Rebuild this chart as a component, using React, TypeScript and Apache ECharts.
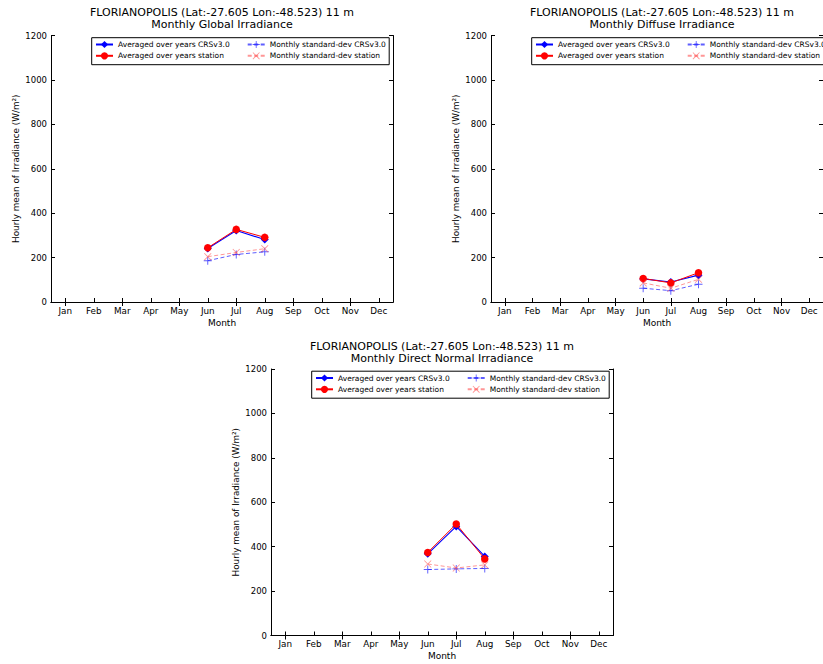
import React, { useEffect, useRef } from "react";
import * as echarts from "echarts";

const months = ["Jan", "Feb", "Mar", "Apr", "May", "Jun", "Jul", "Aug", "Sep", "Oct", "Nov", "Dec"];
const yTicks = { min: 0, max: 1200, interval: 200 };

const titleMain = "FLORIANOPOLIS (Lat:-27.605 Lon:-48.523) 11 m";
const panelTitles = ["Monthly Global Irradiance", "Monthly Diffuse Irradiance", "Monthly Direct Normal Irradiance"];

const seriesNames = [
  "Averaged over years CRSv3.0",
  "Averaged over years station",
  "Monthly standard-dev CRSv3.0",
  "Monthly standard-dev station",
];

// Global irradiance
const ghiAvgCRS = [null, null, null, null, null, 241, 322, 281, null, null, null, null];
const ghiAvgStation = [null, null, null, null, null, 244, 327, 291, null, null, null, null];
const ghiStdCRS = [null, null, null, null, null, 186, 214, 226, null, null, null, null];
const ghiStdStation = [null, null, null, null, null, 204, 223, 240, null, null, null, null];

// Diffuse irradiance
const difAvgCRS = [null, null, null, null, null, 104, 90, 121, null, null, null, null];
const difAvgStation = [null, null, null, null, null, 106, 86, 132, null, null, null, null];
const difStdCRS = [null, null, null, null, null, 62, 51, 80, null, null, null, null];
const difStdStation = [null, null, null, null, null, 86, 62, 102, null, null, null, null];

// Direct normal irradiance
const dniAvgCRS = [null, null, null, null, null, 368, 491, 356, null, null, null, null];
const dniAvgStation = [null, null, null, null, null, 374, 502, 345, null, null, null, null];
const dniStdCRS = [null, null, null, null, null, 297, 300, 302, null, null, null, null];
const dniStdStation = [null, null, null, null, null, 322, 304, 318, null, null, null, null];

const panelData = [
  [ghiAvgCRS, ghiAvgStation, ghiStdCRS, ghiStdStation],
  [difAvgCRS, difAvgStation, difStdCRS, difStdStation],
  [dniAvgCRS, dniAvgStation, dniStdCRS, dniStdStation],
];

// layout (pixels)
const layout = [
  { left: 51, top: 35.5 },
  { left: 491, top: 35.5 },
  { left: 271, top: 369 },
];
const GW = 342;
const GH = 266.5;
const FONT = "DejaVu Sans";

const PLUS = "path://M4.4,0H5.6V4.4H10V5.6H5.6V10H4.4V5.6H0V4.4H4.4Z";
const CROSS = "path://M0,0.8L0.8,0L5,4.2L9.2,0L10,0.8L5.8,5L10,9.2L9.2,10L5,5.8L0.8,10L0,9.2L4.2,5Z";

const styles = [
  { color: "#0000ff", symbol: "diamond", size: 8, dash: "solid" as any, width: 1.1 },
  { color: "#ff0000", symbol: "circle", size: 7.5, dash: "solid" as any, width: 1 },
  { color: "rgba(40,40,255,0.75)", symbol: PLUS, size: 8, dash: [4, 2.5], width: 1 },
  { color: "rgba(255,80,80,0.6)", symbol: CROSS, size: 7.5, dash: [4, 2.5], width: 1 },
];

function buildOption() {
  const grid: any[] = [];
  const xAxis: any[] = [];
  const yAxis: any[] = [];
  const title: any[] = [];
  const legend: any[] = [];
  const series: any[] = [];
  const graphic: any[] = [];
  const axisLine = { show: true, lineStyle: { color: "#000", width: 1 } };
  layout.forEach((p, i) => {
    grid.push({ left: p.left, top: p.top, width: GW, height: GH, containLabel: false });
    xAxis.push({
      type: "category", gridIndex: i, data: months, position: "bottom",
      axisLine, axisTick: { show: true, inside: true, alignWithLabel: true, length: 4, lineStyle: { color: "#000" } },
      axisLabel: { color: "#000", fontSize: 8.8, fontFamily: FONT, margin: 4 },
      name: "Month", nameLocation: "middle", nameGap: 16,
      nameTextStyle: { color: "#000", fontSize: 9, fontFamily: FONT },
      splitLine: { show: false },
    });
    xAxis.push({
      type: "category", gridIndex: i, data: months, position: "top",
      axisLine, axisTick: { show: true, inside: true, alignWithLabel: true, length: 4, lineStyle: { color: "#000" } },
      axisLabel: { show: false }, splitLine: { show: false },
    });
    yAxis.push({
      type: "value", gridIndex: i, position: "left", ...yTicks,
      axisLine, axisTick: { show: true, inside: true, length: 4, lineStyle: { color: "#000" } },
      axisLabel: { color: "#000", fontSize: 8.5, fontFamily: FONT, margin: 4, formatter: (v: number) => String(v) },
      splitLine: { show: false },
      name: "Hourly mean of Irradiance (W/m²)", nameLocation: "middle", nameGap: 31, nameRotate: 90,
      nameTextStyle: { color: "#000", fontSize: 8.8, fontFamily: FONT },
    });
    yAxis.push({
      type: "value", gridIndex: i, position: "right", ...yTicks,
      axisLine, axisTick: { show: true, inside: true, length: 4, lineStyle: { color: "#000" } },
      axisLabel: { show: false }, splitLine: { show: false },
    });
    title.push({
      text: titleMain + "\n" + panelTitles[i],
      left: p.left + GW / 2, top: p.top - 29, textAlign: "center", padding: 0,
      textStyle: { fontSize: 11, lineHeight: 12, fontWeight: "normal", color: "#000", fontFamily: FONT },
    });
    graphic.push({
      type: "rect", z: 3,
      shape: { x: p.left + 40.7, y: p.top + 2.2, width: 297.5, height: 27 },
      style: { fill: "#fff", stroke: "#000", lineWidth: 1 },
    });
    [0, 1].forEach((c) => {
      legend.push({
        orient: "vertical", z: 6, padding: 0,
        left: p.left + (c === 0 ? 44 : 195.7), top: p.top + 5,
        itemWidth: 17, itemHeight: 9, itemGap: 3.3,
        data: c === 0 ? [seriesNames[0], seriesNames[1]] : [seriesNames[2], seriesNames[3]],
        textStyle: { fontSize: 7.5, color: "#000", fontFamily: FONT },
        selectedMode: false,
      });
    });
    panelData[i].forEach((vals, k) => {
      const s = styles[k];
      series.push({
        type: "line", name: seriesNames[k], data: vals,
        xAxisIndex: 2 * i, yAxisIndex: 2 * i,
        symbol: s.symbol, symbolSize: s.size, showSymbol: true,
        itemStyle: { color: s.color },
        lineStyle: { color: s.color, width: s.width, type: s.dash },
        z: 2 + k * 0.1,
      });
    });
  });
  return {
    animation: false,
    textStyle: { fontFamily: FONT },
    grid, xAxis, yAxis, title, legend, series, graphic,
  };
}

export default function App() {
  const ref = useRef<HTMLDivElement>(null);
  useEffect(() => {
    if (!ref.current) return;
    const chart = echarts.init(ref.current, null, { renderer: "svg" });
    chart.setOption(buildOption() as any);
    return () => chart.dispose();
  }, []);
  return (
    <div
      ref={ref}
      style={{ position: "absolute", left: 0, top: 0, width: 823, height: 664, background: "#fff" }}
    />
  );
}
